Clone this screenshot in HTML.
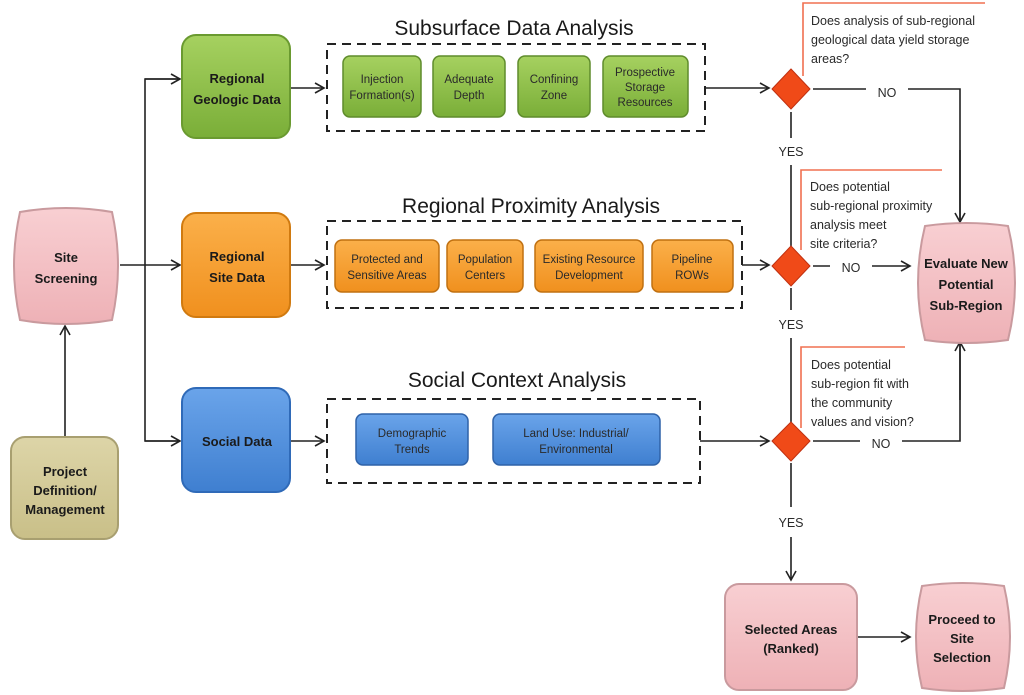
<!DOCTYPE html>
<html><head><meta charset="utf-8"><style>
html,body{margin:0;padding:0;background:#fff;width:1024px;height:695px;overflow:hidden}
text{font-family:"Liberation Sans",sans-serif}
</style></head><body>
<svg width="1024" height="695" viewBox="0 0 1024 695" xmlns="http://www.w3.org/2000/svg">
<defs>
<marker id="a" markerWidth="12" markerHeight="12" refX="10" refY="6" orient="auto" markerUnits="userSpaceOnUse"><path d="M1,1 L10,6 L1,11" fill="none" stroke="#222" stroke-width="1.6"/></marker>
<linearGradient id="gg" x1="0" y1="0" x2="0" y2="1"><stop offset="0" stop-color="#a6d160"/><stop offset="1" stop-color="#7aae38"/></linearGradient>
<linearGradient id="go" x1="0" y1="0" x2="0" y2="1"><stop offset="0" stop-color="#fbb04a"/><stop offset="1" stop-color="#f0901e"/></linearGradient>
<linearGradient id="gb" x1="0" y1="0" x2="0" y2="1"><stop offset="0" stop-color="#6aa4ea"/><stop offset="1" stop-color="#3f7fd0"/></linearGradient>
<linearGradient id="gp" x1="0" y1="0" x2="0" y2="1"><stop offset="0" stop-color="#f8cfd2"/><stop offset="1" stop-color="#eeb1b6"/></linearGradient>
<linearGradient id="gt" x1="0" y1="0" x2="0" y2="1"><stop offset="0" stop-color="#ddd5a8"/><stop offset="1" stop-color="#c9bf88"/></linearGradient>
</defs>
<g stroke="#222" stroke-width="1.6" fill="none">
<!-- left -->
<line x1="65" y1="437" x2="65" y2="326" marker-end="url(#a)"/>
<line x1="120" y1="265" x2="180" y2="265" marker-end="url(#a)"/>
<polyline points="180,79 145,79 145,441 180,441"/>
<line x1="145" y1="79" x2="180" y2="79" marker-end="url(#a)"/>
<line x1="145" y1="441" x2="180" y2="441" marker-end="url(#a)"/>
<line x1="290" y1="88" x2="324" y2="88" marker-end="url(#a)"/>
<line x1="290" y1="265" x2="324" y2="265" marker-end="url(#a)"/>
<line x1="290" y1="441" x2="324" y2="441" marker-end="url(#a)"/>
<!-- dashed boxes -->
<rect x="327" y="44" width="378" height="87" stroke-dasharray="9,6" stroke-width="2"/>
<rect x="327" y="221" width="415" height="87" stroke-dasharray="9,6" stroke-width="2"/>
<rect x="327" y="399" width="373" height="84" stroke-dasharray="9,6" stroke-width="2"/>
<line x1="705" y1="88" x2="769" y2="88" marker-end="url(#a)"/>
<line x1="742" y1="265" x2="769" y2="265" marker-end="url(#a)"/>
<line x1="700" y1="441" x2="769" y2="441" marker-end="url(#a)"/>
<!-- vertical yes -->
<line x1="791" y1="112" x2="791" y2="138"/>
<line x1="791" y1="165" x2="791" y2="246"/>
<line x1="791" y1="288" x2="791" y2="310"/>
<line x1="791" y1="338" x2="791" y2="422"/>
<line x1="791" y1="463" x2="791" y2="507"/>
<line x1="791" y1="537" x2="791" y2="580" marker-end="url(#a)"/>
<!-- NO lines -->
<line x1="813" y1="89" x2="866" y2="89"/>
<polyline points="908,89 960,89 960,222"/>
<line x1="960" y1="150" x2="960" y2="222" marker-end="url(#a)"/>
<line x1="813" y1="266" x2="830" y2="266"/>
<line x1="872" y1="266" x2="910" y2="266" marker-end="url(#a)"/>
<line x1="813" y1="441" x2="860" y2="441"/>
<polyline points="902,441 960,441 960,342"/>
<line x1="960" y1="400" x2="960" y2="342" marker-end="url(#a)"/>
<line x1="857" y1="637" x2="910" y2="637" marker-end="url(#a)"/>
</g>
<!-- callout lines -->
<g stroke="#f07050" stroke-width="1.6" fill="none">
<polyline points="803,76 803,3 985,3"/>
<polyline points="801,250 801,170 942,170"/>
<polyline points="801,428 801,347 905,347"/>
</g>
<!-- main boxes -->
<g stroke-width="2">
<path d="M20,212 Q66,204 112,212 Q124,266 112,320 Q66,328 20,320 Q8,266 20,212Z" fill="url(#gp)" stroke="#c99a9e"/>
<rect x="11" y="437" width="107" height="102" rx="14" fill="url(#gt)" stroke="#a89f70"/>
<rect x="182" y="35" width="108" height="103" rx="14" fill="url(#gg)" stroke="#6a9a30"/>
<rect x="182" y="213" width="108" height="104" rx="14" fill="url(#go)" stroke="#d07a10"/>
<rect x="182" y="388" width="108" height="104" rx="14" fill="url(#gb)" stroke="#2f6ab8"/>
<path d="M925,226 Q966,220 1008,226 Q1022,283 1008,340 Q966,346 925,340 Q911,283 925,226Z" fill="url(#gp)" stroke="#c99a9e"/>
<rect x="725" y="584" width="132" height="106" rx="14" fill="url(#gp)" stroke="#c99a9e"/>
<path d="M922,586 Q962,580 1004,586 Q1016,637 1004,688 Q962,694 922,688 Q910,637 922,586Z" fill="url(#gp)" stroke="#c99a9e"/>
</g>
<!-- sub boxes -->
<g stroke-width="1.5">
<rect x="343" y="56" width="78" height="61" rx="7" fill="url(#gg)" stroke="#5f8c2c"/>
<rect x="433" y="56" width="72" height="61" rx="7" fill="url(#gg)" stroke="#5f8c2c"/>
<rect x="518" y="56" width="72" height="61" rx="7" fill="url(#gg)" stroke="#5f8c2c"/>
<rect x="603" y="56" width="85" height="61" rx="7" fill="url(#gg)" stroke="#5f8c2c"/>
<rect x="335" y="240" width="104" height="52" rx="7" fill="url(#go)" stroke="#c07010"/>
<rect x="447" y="240" width="76" height="52" rx="7" fill="url(#go)" stroke="#c07010"/>
<rect x="535" y="240" width="108" height="52" rx="7" fill="url(#go)" stroke="#c07010"/>
<rect x="652" y="240" width="81" height="52" rx="7" fill="url(#go)" stroke="#c07010"/>
<rect x="356" y="414" width="112" height="51" rx="7" fill="url(#gb)" stroke="#2f62a8"/>
<rect x="493" y="414" width="167" height="51" rx="7" fill="url(#gb)" stroke="#2f62a8"/>
</g>
<!-- diamonds -->
<g fill="#f04a18" stroke="#c03010" stroke-width="1">
<path d="M791,69 L810,89 L791,109 L772,89Z"/>
<path d="M791,246 L810,266 L791,286 L772,266Z"/>
<path d="M791,422 L810,441 L791,461 L772,441Z"/>
</g>
<!-- text -->
<g font-weight="bold" font-size="13" fill="#1a1a1a" text-anchor="middle">
<text x="66" y="262">Site</text><text x="66" y="283">Screening</text>
<text x="65" y="476">Project</text><text x="65" y="495">Definition/</text><text x="65" y="514">Management</text>
<text x="237" y="83">Regional</text><text x="237" y="104">Geologic Data</text>
<text x="237" y="261">Regional</text><text x="237" y="282">Site Data</text>
<text x="237" y="446">Social Data</text>
<text x="966" y="268">Evaluate New</text><text x="966" y="289">Potential</text><text x="966" y="310">Sub-Region</text>
<text x="791" y="634">Selected Areas</text><text x="791" y="653">(Ranked)</text>
<text x="962" y="624">Proceed to</text><text x="962" y="643">Site</text><text x="962" y="662">Selection</text>
</g>
<g font-size="11.5" fill="#2a2a2a" text-anchor="middle">
<text x="382" y="83">Injection</text><text x="382" y="99">Formation(s)</text>
<text x="469" y="83">Adequate</text><text x="469" y="99">Depth</text>
<text x="554" y="83">Confining</text><text x="554" y="99">Zone</text>
<text x="645" y="76">Prospective</text><text x="645" y="91">Storage</text><text x="645" y="106">Resources</text>
<text x="387" y="263">Protected and</text><text x="387" y="279">Sensitive Areas</text>
<text x="485" y="263">Population</text><text x="485" y="279">Centers</text>
<text x="589" y="263">Existing Resource</text><text x="589" y="279">Development</text>
<text x="692" y="263">Pipeline</text><text x="692" y="279">ROWs</text>
<text x="412" y="437">Demographic</text><text x="412" y="453">Trends</text>
<text x="576" y="437">Land Use: Industrial/</text><text x="576" y="453">Environmental</text>
</g>
<g font-size="21" fill="#1a1a1a" text-anchor="middle">
<text x="514" y="35">Subsurface Data Analysis</text>
<text x="531" y="213">Regional Proximity Analysis</text>
<text x="517" y="387">Social Context Analysis</text>
</g>
<g font-size="12.5" fill="#2a2a2a">
<text x="811" y="25">Does analysis of sub-regional</text>
<text x="811" y="44">geological data yield storage</text>
<text x="811" y="63">areas?</text>
<text x="810" y="191">Does potential</text>
<text x="810" y="210">sub-regional proximity</text>
<text x="810" y="229">analysis meet</text>
<text x="810" y="248">site criteria?</text>
<text x="811" y="369">Does potential</text>
<text x="811" y="388">sub-region fit with</text>
<text x="811" y="407">the community</text>
<text x="811" y="426">values and vision?</text>
</g>
<g font-size="12.5" fill="#2a2a2a" text-anchor="middle">
<text x="887" y="97">NO</text>
<text x="851" y="272">NO</text>
<text x="881" y="448">NO</text>
<text x="791" y="156">YES</text>
<text x="791" y="329">YES</text>
<text x="791" y="527">YES</text>
</g>
</svg>
</body></html>
